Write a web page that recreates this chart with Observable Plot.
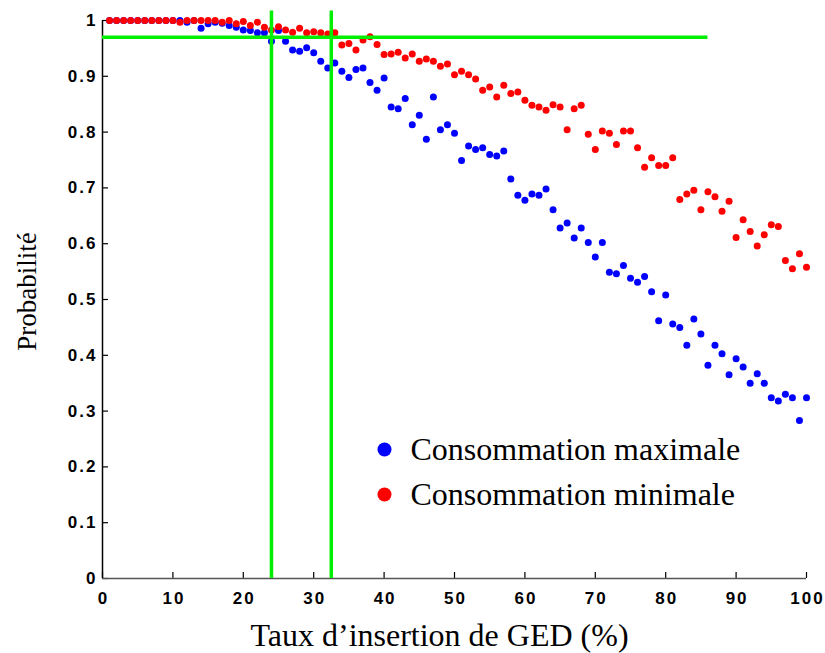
<!DOCTYPE html>
<html><head><meta charset="utf-8">
<script src="https://cdn.jsdelivr.net/npm/d3@7"></script>
<script src="https://cdn.jsdelivr.net/npm/@observablehq/plot@0.6"></script>
<style>body{margin:0;background:#fff} #chart{width:825px;height:653px}</style>
</head><body><div id="chart"></div>
<script>
const taux = d3.range(1, 101);
const consoMax = [
  1,1,1,1,1,1,1,1,1,1,
  1.0,0.997,1.0,0.986,0.994,0.997,0.995,0.991,0.988,0.983,
  0.982,0.978,0.978,0.963,0.982,0.963,0.947,0.945,0.951,0.942,
  0.927,0.915,0.924,0.909,0.898,0.912,0.915,0.889,0.875,0.897,
  0.845,0.842,0.860,0.813,0.830,0.787,0.863,0.804,0.813,0.798,
  0.749,0.775,0.769,0.772,0.760,0.757,0.766,0.716,0.687,0.678,
  0.689,0.687,0.698,0.661,0.628,0.637,0.610,0.628,0.602,0.576,
  0.602,0.549,0.546,0.561,0.538,0.531,0.541,0.514,0.462,0.508,
  0.456,0.450,0.418,0.465,0.438,0.382,0.418,0.403,0.365,0.394,
  0.379,0.350,0.367,0.350,0.324,0.318,0.330,0.324,0.283,0.324
];
const consoMin = [
  1,1,1,1,1,1,1,1,1,1,
  0.997,1,1,1,1,1,0.997,1.0,0.994,0.998,
  0.991,0.997,0.988,0.983,0.989,0.983,0.979,0.986,0.978,0.980,
  0.978,0.976,0.978,0.956,0.959,0.947,0.965,0.971,0.957,0.939,
  0.940,0.943,0.933,0.940,0.927,0.931,0.927,0.918,0.922,0.903,
  0.909,0.903,0.895,0.875,0.881,0.863,0.884,0.869,0.872,0.857,
  0.848,0.845,0.839,0.849,0.845,0.804,0.842,0.848,0.796,0.769,
  0.802,0.798,0.778,0.802,0.802,0.772,0.737,0.754,0.740,0.740,
  0.754,0.679,0.689,0.696,0.661,0.693,0.684,0.658,0.676,0.611,
  0.643,0.622,0.596,0.616,0.634,0.631,0.570,0.555,0.582,0.558
];
const seriesNames = ["Consommation maximale", "Consommation minimale"];
const seriesColors = ["#0000ff", "#ff0000"];
const xTicks = [0,10,20,30,40,50,60,70,80,90,100];
const yTicks = [0,0.1,0.2,0.3,0.4,0.5,0.6,0.7,0.8,0.9,1];
const seuilProba = 0.97;
const seuilTaux = [24, 32.5];
const finSeuilHoriz = 86;
const hautSeuilVert = 1.017;
const xTitle = "Taux d\u2019insertion de GED (%)";
const yTitle = "Probabilité";

const dataMax = taux.map((t, i) => ({t, p: consoMax[i]}));
const dataMin = taux.map((t, i) => ({t, p: consoMin[i]}));

const W = 825, H = 653, ML = 102, MR = 19, MT = 20, MB = 75;
const tickFont = {fontFamily: "Liberation Sans, Arial, sans-serif", fontSize: 17, fontWeight: "bold"};
const serif = "Liberation Serif, Times New Roman, serif";
const green = "#00ee00";

const legendMarks = seriesNames.flatMap((name, i) => [
  Plot.dot([name], {frameAnchor: "top-left", dx: 282, dy: 429 + 45 * i, r: 7, fill: seriesColors[i], stroke: "none"}),
  Plot.text([name], {frameAnchor: "top-left", dx: 308, dy: 429 + 45 * i, text: d => d, textAnchor: "start", lineAnchor: "middle", fontSize: 32, fontFamily: serif, fill: "#000"})
]);

const chart = Plot.plot({
  width: W, height: H,
  marginLeft: ML, marginRight: MR, marginTop: MT, marginBottom: MB,
  style: {background: "#fff", overflow: "visible", letterSpacing: "2px"},
  x: {domain: [0, 100]},
  y: {domain: [0, 1]},
  marks: [
    Plot.axisX({ticks: xTicks, tickSize: 0, tickPadding: 13, tickFormat: d => String(d), label: null, ...tickFont, fill: "#000", dx: 1}),
    Plot.axisY({ticks: yTicks, tickSize: 0, tickPadding: 5, tickFormat: d => d3.format("~g")(d), label: null, ...tickFont, fill: "#000"}),
    Plot.tickX(xTicks, {x: d => d, insetTop: H - MT - MB - 6, stroke: "#000", strokeWidth: 1.2}),
    Plot.tickY(yTicks, {y: d => d, insetRight: W - ML - MR - 6, stroke: "#000", strokeWidth: 1.2}),
    Plot.ruleY([0], {x1: 0, x2: 100, stroke: "#555", strokeWidth: 1.5}),
    Plot.ruleX([0], {y1: 0, y2: 1, stroke: "#000", strokeWidth: 1.5}),
    Plot.dot(dataMax, {x: "t", y: "p", r: 3.5, fill: seriesColors[0], stroke: "none"}),
    Plot.dot(dataMin, {x: "t", y: "p", r: 3.5, fill: seriesColors[1], stroke: "none"}),
    Plot.ruleY([seuilProba], {x1: 0, x2: finSeuilHoriz, stroke: green, strokeWidth: 3.5}),
    Plot.ruleX(seuilTaux, {y1: 0, y2: hautSeuilVert, stroke: green, strokeWidth: 3.5}),
    ...legendMarks,
    Plot.text([xTitle], {frameAnchor: "bottom", dx: -15, dy: 57, text: d => d, textAnchor: "middle", lineAnchor: "middle", fontSize: 32, fontFamily: serif, fill: "#000", style: {letterSpacing: "0px"}}),
    Plot.text([yTitle], {frameAnchor: "left", dx: -75, dy: -8, rotate: -90, text: d => d, textAnchor: "middle", lineAnchor: "middle", fontSize: 27, fontFamily: serif, fill: "#000"})
  ]
});
chart.querySelectorAll("text").forEach(t => {
  if (t.closest("[aria-label='x-axis tick label'], [aria-label='y-axis tick label']")) return;
  t.style.letterSpacing = "0px";
});
document.getElementById("chart").appendChild(chart);
</script>
</body></html>
